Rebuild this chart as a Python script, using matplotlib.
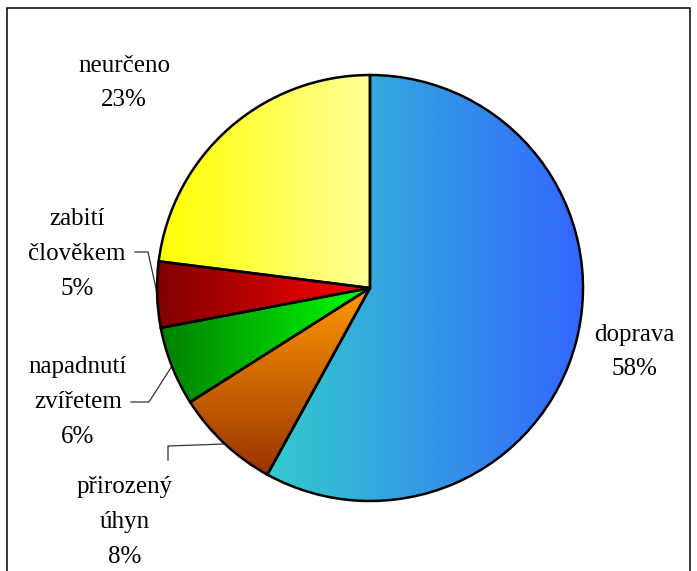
import numpy as np
import matplotlib
matplotlib.use("Agg")
import matplotlib.pyplot as plt
from matplotlib.colors import LinearSegmentedColormap
from matplotlib.patches import Rectangle

plt.rcParams['font.family'] = ['Liberation Serif', 'DejaVu Serif']

# data
labels = ['doprava', 'přirozený\núhyn', 'napadnutí\nzvířetem', 'zabití\nčlověkem', 'neurčeno']
values = [58, 8, 6, 5, 23]
# gradient (start, end, direction) per slice
grads = [('#33CCCC', '#3366FF', 'h'),
         ('#FF9900', '#993300', 'v'),
         ('#008000', '#00FF00', 'h'),
         ('#800000', '#FF0000', 'h'),
         ('#FFFF00', '#FFFF99', 'h')]

W, H = 697, 571
fig = plt.figure(figsize=(W / 100, H / 100), dpi=100)
ax = fig.add_axes([0, 0, 1, 1])

cx, cy, r = 370, H - 288, 213
wedges, _ = ax.pie(values, center=(cx, cy), radius=r, startangle=90,
                   counterclock=False, frame=True,
                   wedgeprops=dict(facecolor='none', edgecolor='black', linewidth=1.8, zorder=3))

for w, (c0, c1, d) in zip(wedges, grads):
    x0, y0, x1, y1 = w.get_path().get_extents().extents
    cmap = LinearSegmentedColormap.from_list('g', [c0, c1])
    g = np.linspace(0, 1, 256)
    if d == 'h':
        img = g[None, :]
    else:
        img = g[::-1][:, None]  # top -> bottom
    im = ax.imshow(img, cmap=cmap, extent=(x0, x1, y0, y1), origin='lower',
                   aspect='auto', interpolation='bilinear', zorder=2)
    im.set_clip_path(w)

ax.set_xlim(0, W)
ax.set_ylim(0, H)
ax.axis('off')

# labels
pos = [(634, H - 352), (125, H - 522), (78, H - 402), (77, H - 254), (124, H - 83)]
for lab, v, (x, y) in zip(labels, values, pos):
    ax.text(x, y, f"{lab}\n{v}%", ha='center', va='center', fontsize=18,
            linespacing=1.75, color='black')

# leader lines
lc = dict(color='#333333', lw=0.9, zorder=1)
ax.plot([135, 148, 157], [H - 252, H - 252, H - 293], **lc)
ax.plot([131, 149, 172], [H - 402, H - 402, H - 366], **lc)
ax.plot([168, 168, 224], [H - 460, H - 446, H - 444], **lc)

# outer frame
ax.add_patch(Rectangle((7, -20), 683, H - 8 + 20, fill=False, edgecolor='black',
                       linewidth=1.1, clip_on=False))

fig.savefig('out.png', dpi=100)
